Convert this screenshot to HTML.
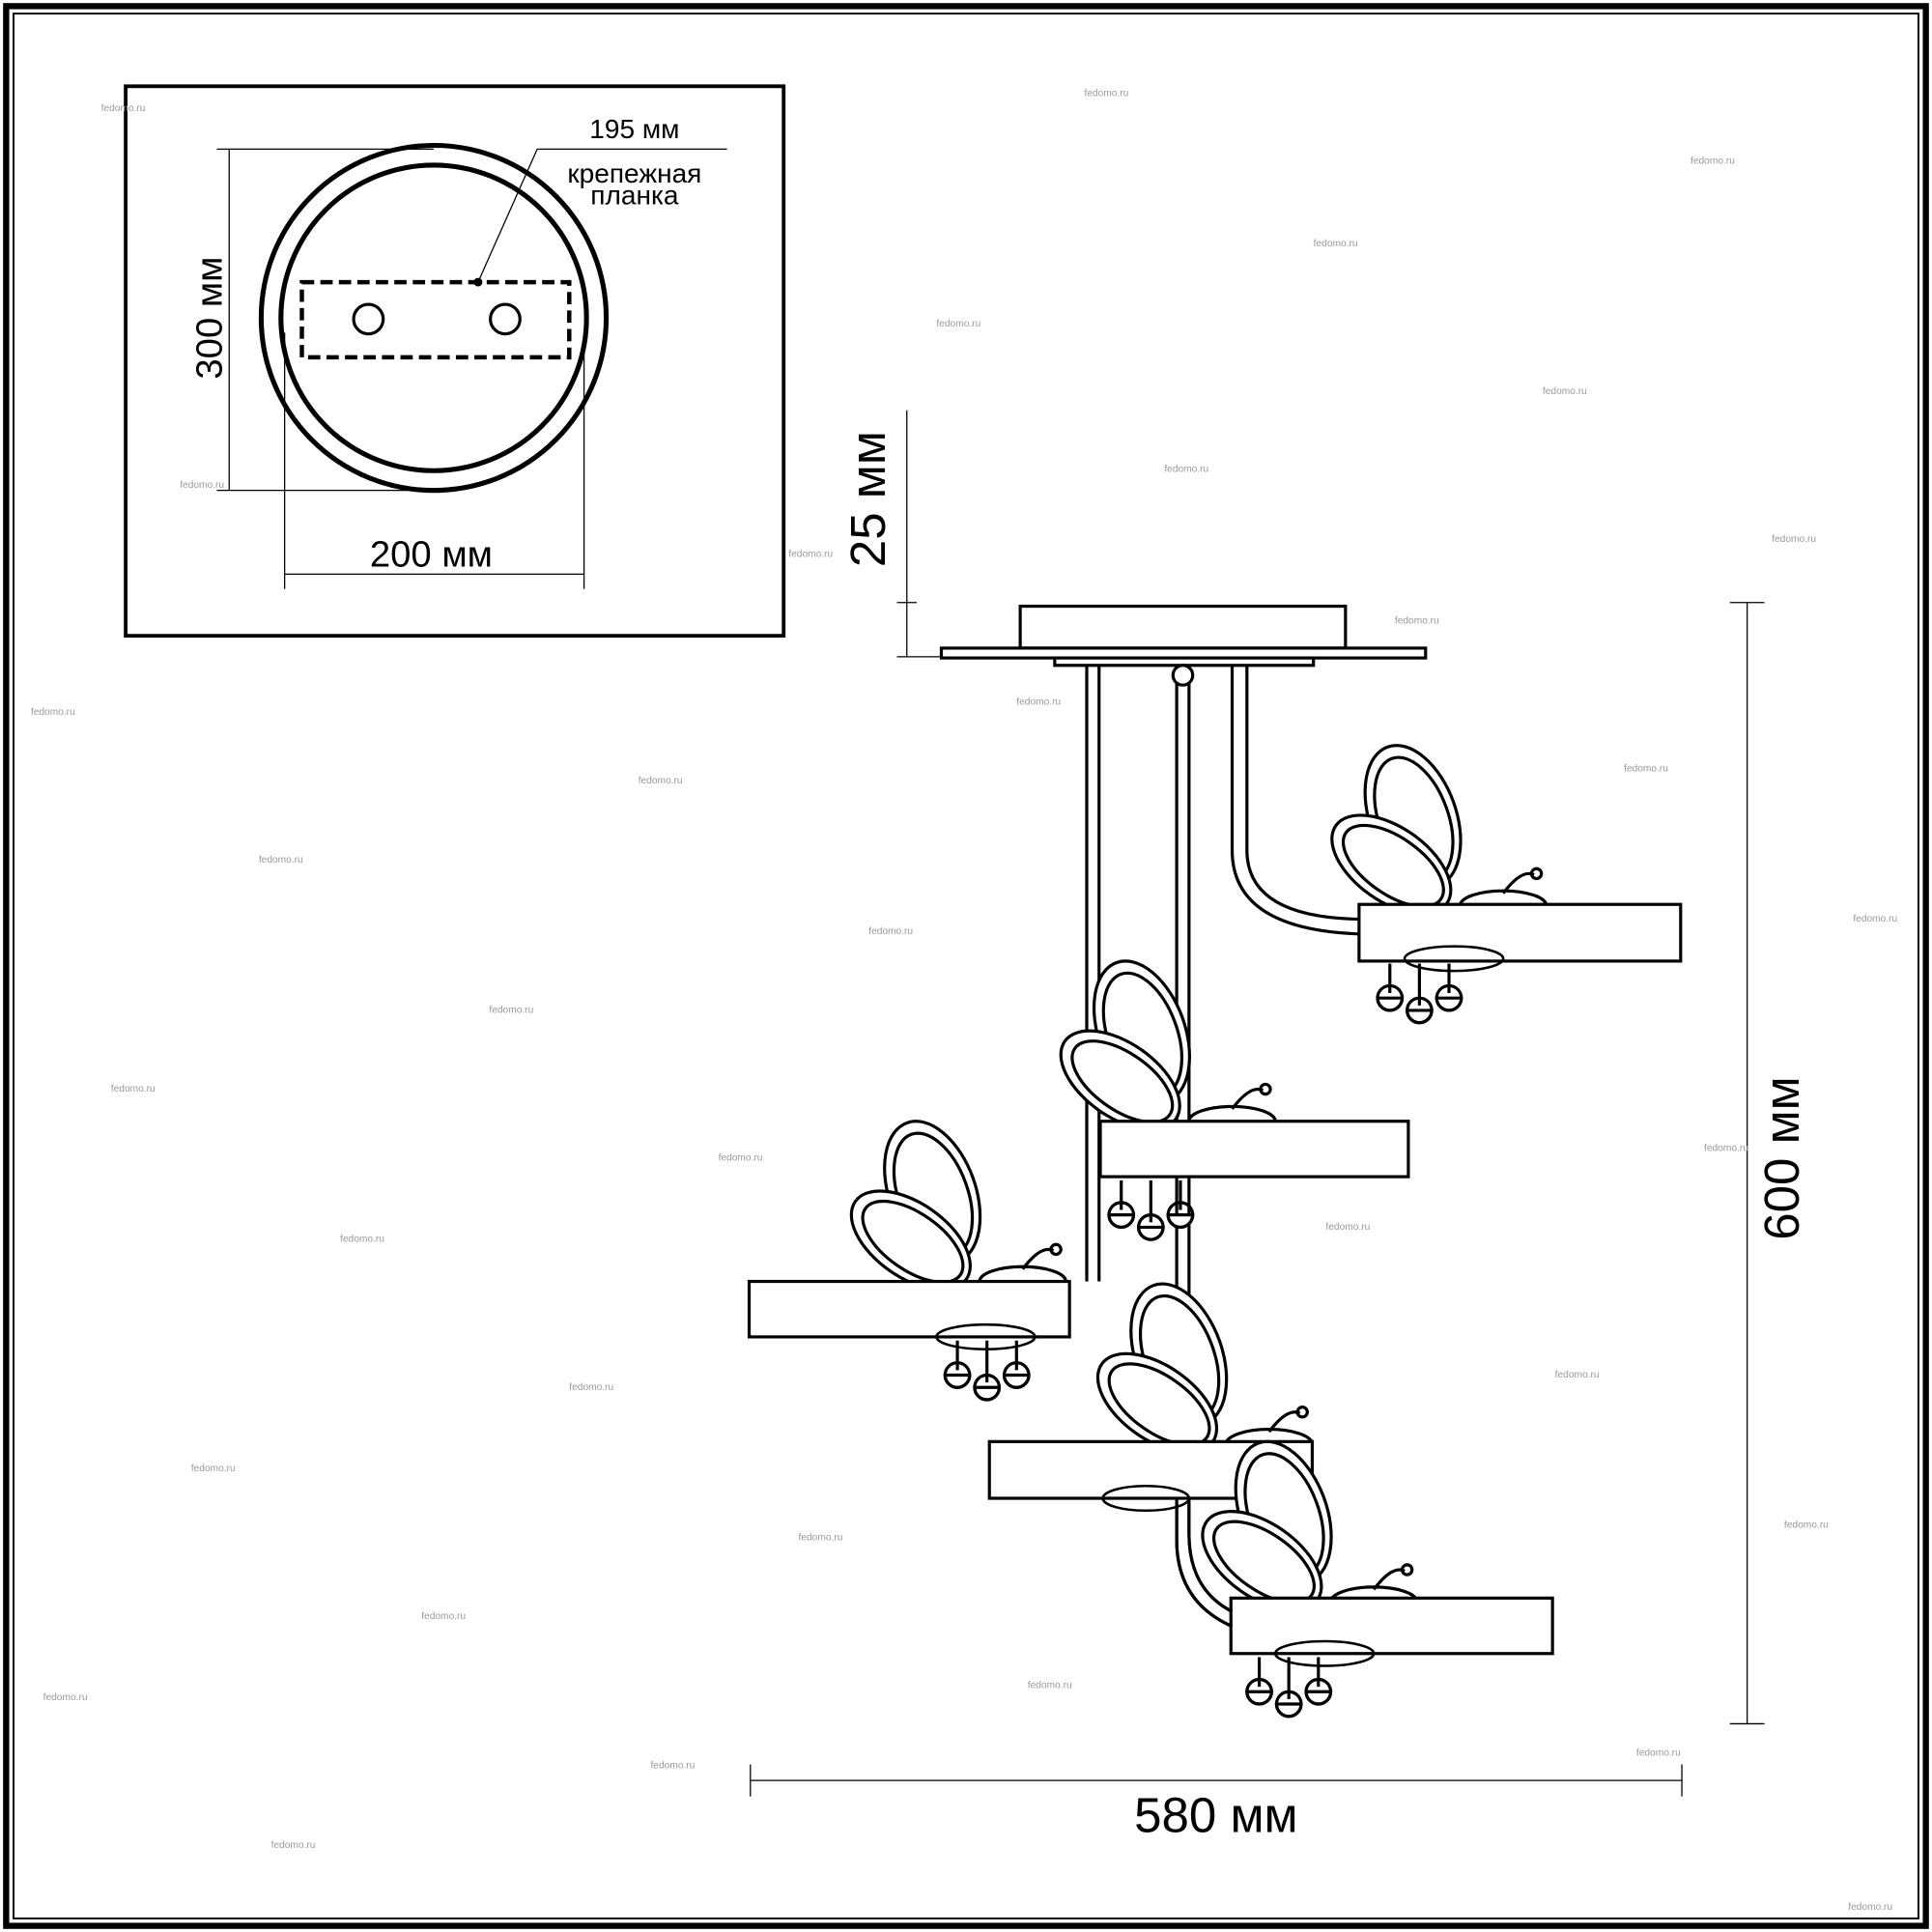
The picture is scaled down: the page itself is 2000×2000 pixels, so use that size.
<!DOCTYPE html>
<html><head><meta charset="utf-8"><style>
html,body{margin:0;padding:0;background:#fff}
svg{display:block}
text{font-family:"Liberation Sans",sans-serif;fill:#000}
.w{font-size:8px;fill:#999}
</style></head><body>
<svg width="2000" height="2000" viewBox="0 0 1568 1568" xmlns="http://www.w3.org/2000/svg">
<rect x="0" y="0" width="1568" height="1568" fill="#fff"/>
<rect x="5" y="5" width="1558" height="1558" fill="none" stroke="#000" stroke-width="5"/>
<rect x="11" y="11" width="1546" height="1546" fill="none" stroke="#000" stroke-width="1.5"/>

<g fill="none" stroke="#000">
<!-- inset -->
<rect x="102" y="70" width="534" height="446" stroke-width="3"/>
<circle cx="352" cy="258" r="140" stroke-width="4"/>
<circle cx="352" cy="258" r="124" stroke-width="4"/>
<rect x="245" y="229" width="217" height="61" stroke-width="3.5" stroke-dasharray="10,5"/>
<circle cx="299" cy="259" r="12" stroke-width="2.5"/>
<circle cx="410" cy="259" r="12" stroke-width="2.5"/>
<line x1="186" y1="121" x2="186" y2="398" stroke-width="1"/>
<line x1="176" y1="121" x2="352" y2="121" stroke-width="1"/>
<line x1="176" y1="398" x2="352" y2="398" stroke-width="1"/>
<line x1="231" y1="466" x2="474" y2="466" stroke-width="1"/>
<line x1="231" y1="270" x2="231" y2="478" stroke-width="1"/>
<line x1="474" y1="270" x2="474" y2="478" stroke-width="1"/>
<polyline points="388,229 436,121 590,121" stroke-width="1"/>
<circle cx="388" cy="229" r="3" fill="#000"/>

<!-- dimensions -->
<line x1="736" y1="333" x2="736" y2="533" stroke-width="1"/>
<line x1="728" y1="489" x2="744" y2="489" stroke-width="1"/>
<line x1="728" y1="533" x2="770" y2="533" stroke-width="1"/>
<line x1="1418" y1="489" x2="1418" y2="1399" stroke-width="1"/>
<line x1="1404" y1="489" x2="1432" y2="489" stroke-width="1"/>
<line x1="1404" y1="1399" x2="1432" y2="1399" stroke-width="1"/>
<line x1="609" y1="1445" x2="1365" y2="1445" stroke-width="1"/>
<line x1="609" y1="1432" x2="609" y2="1458" stroke-width="1"/>
<line x1="1365" y1="1432" x2="1365" y2="1458" stroke-width="1"/>

<!-- canopy -->
<g stroke-width="2.5">
<rect x="828" y="492" width="264" height="34" fill="#fff"/>
<rect x="764" y="526" width="393" height="8" fill="#fff"/>
<rect x="856" y="534" width="210" height="6" fill="#fff"/>
<!-- rods -->
<path d="M882 540 V1040 M892 540 V1040"/>
<path d="M955 540 V1250 Q955 1300 1000 1320 M965 540 V1245 Q965 1290 1000 1308"/>
<path d="M1000 540 V690 Q1000 755 1105 758 M1012 540 V690 Q1012 745 1105 746"/>
<circle cx="960" cy="548" r="8" fill="#fff"/>
</g>
</g>

<defs>
<g id="bf" fill="none" stroke="#000" stroke-width="2.5">
<!-- wings -->
<g transform="rotate(-20 0 0)">
<ellipse cx="-10" cy="-70" rx="35" ry="60" fill="#fff"/>
<ellipse cx="-10" cy="-68" rx="28" ry="52"/>
</g>
<g transform="rotate(-55 0 0)">
<ellipse cx="-10" cy="-55" rx="30" ry="55" fill="#fff"/>
<ellipse cx="-10" cy="-53" rx="23" ry="47"/>
</g>
<ellipse cx="40" cy="10" rx="35" ry="12" fill="#fff"/>
<path d="M40 0 Q55 -20 65 -15"/>
<circle cx="67" cy="-16" r="4"/>
</g>
<g id="pend" fill="none" stroke="#000" stroke-width="2.5">
<path d="M0 0 V24 M24 0 V34 M48 0 V24"/>
<path d="M-10 28 a10 10 0 0 0 20 0 z M14 38 a10 10 0 0 0 20 0 z M38 28 a10 10 0 0 0 20 0 z" fill="#fff"/>
<circle cx="0" cy="28" r="10"/><circle cx="24" cy="38" r="10"/><circle cx="48" cy="28" r="10"/>
</g>
</defs>

<!-- lamp 1 -->
<use href="#pend" x="1128" y="782"/>
<use href="#bf" x="1180" y="725"/>
<rect x="1103" y="734" width="261" height="46" fill="#fff" stroke="#000" stroke-width="2.5"/>
<ellipse cx="1180" cy="778" rx="40" ry="10" fill="none" stroke="#000" stroke-width="2"/>
<!-- lamp 2 -->
<use href="#pend" x="910" y="958"/>
<use href="#bf" x="960" y="900"/>
<rect x="893" y="910" width="250" height="45" fill="#fff" stroke="#000" stroke-width="2.5"/>
<!-- lamp 3 -->
<use href="#pend" x="777" y="1088"/>
<use href="#bf" x="790" y="1030"/>
<rect x="608" y="1040" width="260" height="45" fill="#fff" stroke="#000" stroke-width="2.5"/>
<ellipse cx="800" cy="1085" rx="40" ry="10" fill="none" stroke="#000" stroke-width="2"/>
<!-- lamp 4 -->
<use href="#bf" x="990" y="1162"/>
<rect x="803" y="1170" width="262" height="46" fill="#fff" stroke="#000" stroke-width="2.5"/>
<ellipse cx="930" cy="1216" rx="35" ry="10" fill="none" stroke="#000" stroke-width="2"/>
<!-- lamp 5 -->
<use href="#pend" x="1022" y="1345"/>
<use href="#bf" x="1075" y="1290"/>
<rect x="999" y="1297" width="261" height="45" fill="#fff" stroke="#000" stroke-width="2.5"/>
<ellipse cx="1075" cy="1342" rx="40" ry="10" fill="none" stroke="#000" stroke-width="2"/>
<path d="M955 1220 V1250 Q955 1300 1000 1320 M965 1220 V1245 Q965 1290 1000 1308" fill="none" stroke="#000" stroke-width="2.5"/>

<!-- text -->
<text x="350" y="460" font-size="30" text-anchor="middle">200 мм</text>
<text transform="translate(180,258) rotate(-90)" font-size="30" text-anchor="middle">300 мм</text>
<text x="515" y="112" font-size="22" text-anchor="middle">195 мм</text>
<text x="515" y="148" font-size="22" text-anchor="middle">крепежная</text>
<text x="515" y="166" font-size="22" text-anchor="middle">планка</text>
<text transform="translate(718,405) rotate(-90)" font-size="40" text-anchor="middle">25 мм</text>
<text transform="translate(1460,940) rotate(-90)" font-size="40" text-anchor="middle">600 мм</text>
<text x="987" y="1487" font-size="40" text-anchor="middle">580 мм</text>

<g class="w">
<text x="82" y="90" class="w">fedomo.ru</text>
<text x="880" y="78" class="w">fedomo.ru</text>
<text x="1372" y="133" class="w">fedomo.ru</text>
<text x="1066" y="200" class="w">fedomo.ru</text>
<text x="760" y="265" class="w">fedomo.ru</text>
<text x="1252" y="320" class="w">fedomo.ru</text>
<text x="945" y="383" class="w">fedomo.ru</text>
<text x="146" y="396" class="w">fedomo.ru</text>
<text x="1438" y="440" class="w">fedomo.ru</text>
<text x="640" y="452" class="w">fedomo.ru</text>
<text x="1132" y="506" class="w">fedomo.ru</text>
<text x="25" y="580" class="w">fedomo.ru</text>
<text x="825" y="572" class="w">fedomo.ru</text>
<text x="1318" y="626" class="w">fedomo.ru</text>
<text x="518" y="636" class="w">fedomo.ru</text>
<text x="210" y="700" class="w">fedomo.ru</text>
<text x="1504" y="748" class="w">fedomo.ru</text>
<text x="705" y="758" class="w">fedomo.ru</text>
<text x="397" y="822" class="w">fedomo.ru</text>
<text x="90" y="886" class="w">fedomo.ru</text>
<text x="583" y="942" class="w">fedomo.ru</text>
<text x="1383" y="934" class="w">fedomo.ru</text>
<text x="276" y="1008" class="w">fedomo.ru</text>
<text x="1076" y="998" class="w">fedomo.ru</text>
<text x="462" y="1128" class="w">fedomo.ru</text>
<text x="1262" y="1118" class="w">fedomo.ru</text>
<text x="155" y="1194" class="w">fedomo.ru</text>
<text x="648" y="1250" class="w">fedomo.ru</text>
<text x="1448" y="1240" class="w">fedomo.ru</text>
<text x="342" y="1314" class="w">fedomo.ru</text>
<text x="35" y="1380" class="w">fedomo.ru</text>
<text x="834" y="1370" class="w">fedomo.ru</text>
<text x="528" y="1435" class="w">fedomo.ru</text>
<text x="1328" y="1425" class="w">fedomo.ru</text>
<text x="220" y="1500" class="w">fedomo.ru</text>
<text x="1500" y="1550" class="w">fedomo.ru</text>
</g>
</svg>
</body></html>
